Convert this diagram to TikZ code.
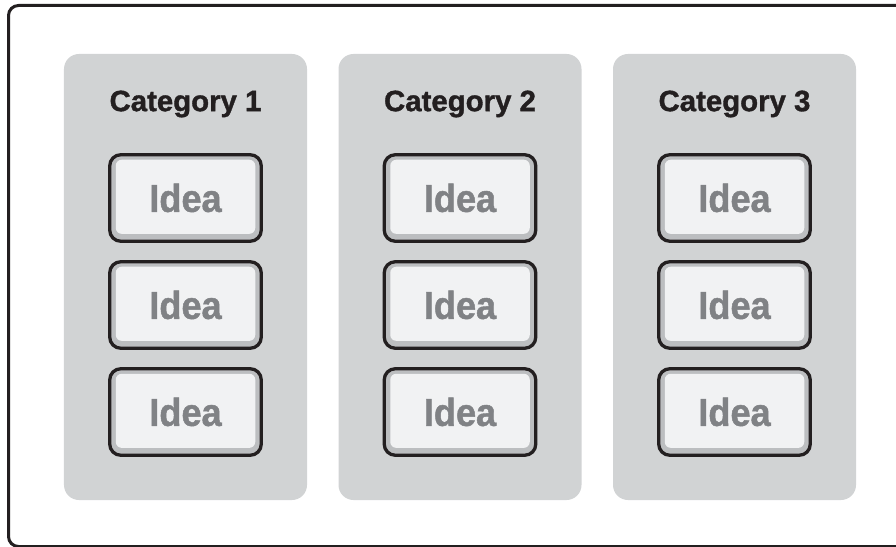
\documentclass[tikz,border=0pt]{standalone}
\usepackage{fontspec}
\setmainfont{Liberation Sans}
\newfontfamily\catfont[FakeBold=1.2]{Liberation Sans}
\newfontfamily\ideafont[FakeStretch=0.93,FakeBold=1.2]{Liberation Sans}
\definecolor{darkline}{HTML}{231F20}
\definecolor{panelgray}{HTML}{D1D3D4}
\definecolor{ringgray}{HTML}{BCBEC0}
\definecolor{ideafill}{HTML}{F1F2F3}
\definecolor{ideatext}{HTML}{808285}
\tikzset{
  frame/.style={draw=darkline, line width=3bp, rounded corners=10bp},
  panel/.style={fill=panelgray, rounded corners=15bp, minimum width=243bp, minimum height=446bp, inner sep=0pt},
  cattitle/.style={text=darkline, font=\catfont\bfseries\fontsize{29.5}{29.5}\selectfont, inner sep=0pt},
  ideabox/.style={draw=darkline, line width=3.3bp, fill=ringgray, rounded corners=11bp,
    minimum width=151.5bp, minimum height=86.5bp, inner sep=0pt,
    text=ideatext, font=\ideafont\bfseries\fontsize{39}{39}\selectfont,
    path picture={\fill[ideafill, rounded corners=6bp]
      ([shift={(6,5)}]path picture bounding box.north west) rectangle
      ([shift={(-6,-7.4)}]path picture bounding box.south east);}}
}
\begin{document}
\begin{tikzpicture}[x=1bp, y=-1bp]
\useasboundingbox (0,0) rectangle (896,547);
\clip (0,0) rectangle (896,547);
\draw[frame] (8.5,5.5) rectangle (920,546.5);
\foreach \c/\x in {1/185.5, 2/460, 3/734.5} {
  \node[panel] (p\c) at (\x,277) {};
  \node[cattitle] (c\c) at (\x,104) {Category \c};
  \node[ideabox] (i\c a) at (\x,198) {Idea};
  \node[ideabox] (i\c b) at (\x,305) {Idea};
  \node[ideabox] (i\c c) at (\x,412) {Idea};
}
\end{tikzpicture}
\end{document}
